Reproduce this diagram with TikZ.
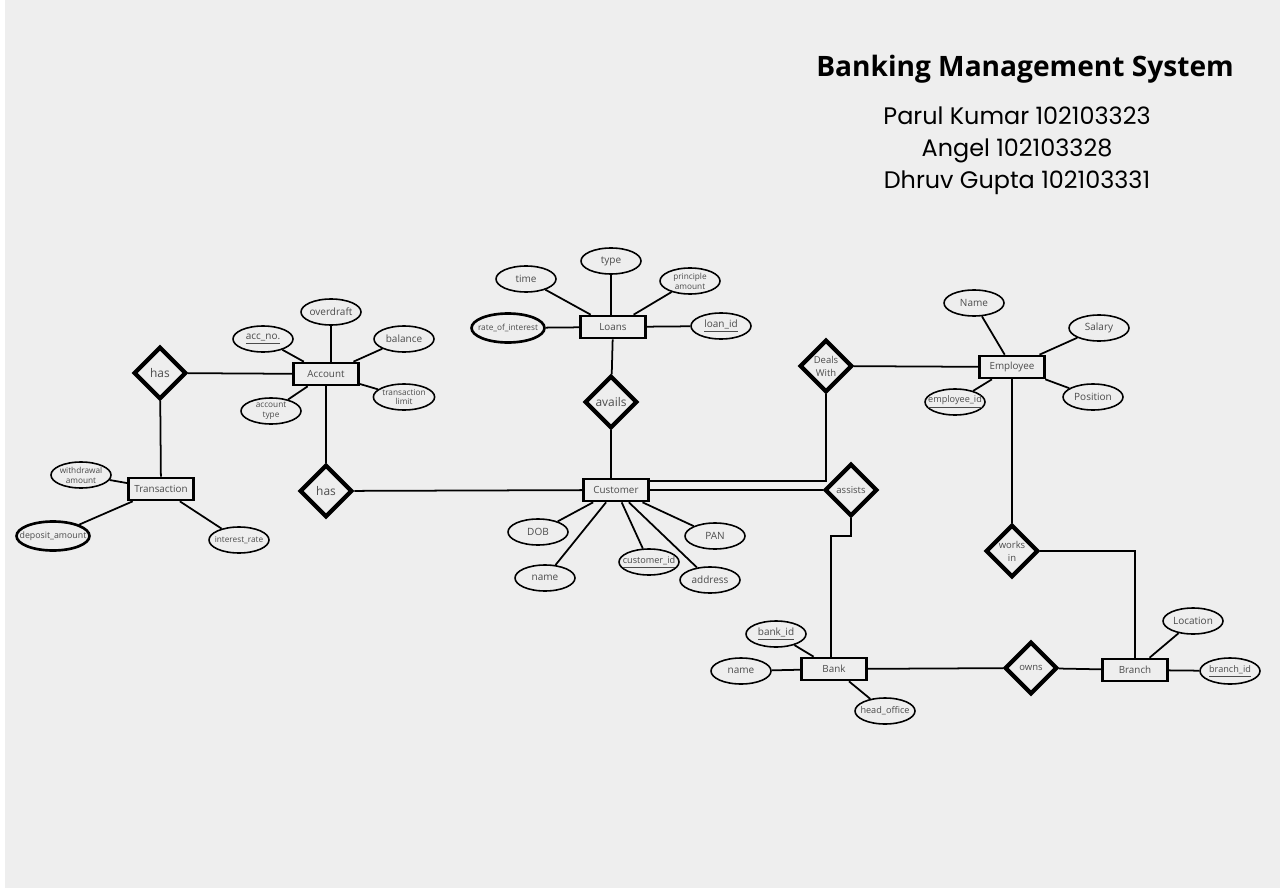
\documentclass[tikz,border=0pt]{standalone}
\usepackage{fontspec}
\setmainfont{Open Sans}
\newfontfamily\namesfont{Poppins}
\usetikzlibrary{shapes.geometric, positioning}
\definecolor{bmsPaper}{RGB}{238, 238, 238}
\definecolor{bmsInk}{RGB}{75, 75, 75}
% texto de atributo sin ancho propio: el ovalo lo fija minimum width
\newcommand{\attrtxt}[1]{\makebox[0pt]{#1}}

\begin{document}
\begin{tikzpicture}[
      x=0.02cm, y=-0.02cm,
      entity/.style = {draw, line width=1.5pt, fill=bmsPaper,
                       minimum width=1.3cm, minimum height=0.44cm,
                       inner sep=0pt, text=bmsInk,
                       font=\fontsize{5.6}{6.5}\selectfont},
      attr/.style   = {draw, ellipse, line width=0.9pt, fill=bmsPaper,
                       minimum width=1.2cm, minimum height=0.52cm,
                       inner sep=0pt, align=center, text=bmsInk,
                       font=\fontsize{5.7}{6.4}\selectfont},
      idattr/.style = {attr, font=\fontsize{5.2}{6.2}\selectfont},
      small/.style  = {font=\fontsize{4.7}{5.6}\selectfont},
      boldattr/.style = {attr, line width=1.5pt,
                       minimum width=1.46cm, minimum height=0.58cm},
      rel/.style    = {draw, diamond, line width=2.4pt, fill=bmsPaper,
                       minimum width=1.05cm, minimum height=1.05cm,
                       inner sep=0pt, align=center, text=bmsInk,
                       font=\fontsize{5.4}{7.4}\selectfont},
      bigrel/.style = {rel, font=\fontsize{6.8}{7.5}\selectfont},
      link/.style   = {line width=1pt},
    ]
    %% ── Fondo ──────────────────────────────────────────────────
    \fill[bmsPaper] (0,0) rectangle (1280,888);
    \fill[white] (0,0) rectangle (5,888);
    \useasboundingbox (0,0) rectangle (1280,888);

    %% ── Titulo ─────────────────────────────────────────────────
    \node (title) at (1025,69)
      {\fontsize{16}{19}\selectfont\bfseries Banking Management System};
    \node (authors) at (1017,151) [align=center,
        font=\namesfont\fontsize{13.6}{18.2}\selectfont]
      {Parul Kumar 102103323\\Angel 102103328\\Dhruv Gupta 102103331};

    %% ── Entidades ──────────────────────────────────────────────
    \node (acct)  at (326,374) [entity] {Account};
    \node (trans) at (161,489) [entity] {Transaction};
    \node (loans) at (613,327) [entity] {Loans};
    \node (cust)  at (616,490) [entity] {Customer};
    \node (emp)   at (1012,367) [entity] {Employee};
    \node (bank)  at (834,669) [entity] {Bank};
    \node (branch) at (1135,670) [entity] {Branch};

    %% ── Relaciones ─────────────────────────────────────────────
    \node (hasT)   at (160,373) [bigrel] {has};
    \node (hasC)   at (326,491) [bigrel] {has};
    \node (avails) at (611,402) [bigrel] {avails};
    \node (deals)  at (826,366) [rel] {Deals\\With};
    \node (assists) at (851,490) [rel] {assists};
    \node (works)  at (1012,551) [rel] {works\\in};
    \node (owns)   at (1031,668) [rel] {owns};

    %% ── Atributos ──────────────────────────────────────────────
    \node (ovd)    at (331,312) [attr] {\attrtxt{overdraft}};
    \node (accno)  at (263,339) [attr] {\attrtxt{\underline{acc\_no.}}};
    \node (bal)    at (404,339) [attr] {\attrtxt{balance}};
    \node (acctyp) at (271,411) [attr, small] {account\\type};
    \node (trlim)  at (404,397) [attr, small] {transaction\\limit};

    \node (wdraw)  at (81,475)  [attr, small] {withdrawal\\amount};
    \node (depo)   at (53,536)  [boldattr, font=\fontsize{5}{6}\selectfont]
                                 {\attrtxt{deposit\_amount}};
    \node (irate)  at (239,540) [attr, small] {\attrtxt{interest\_rate}};

    \node (ltime)  at (526,279) [attr] {\attrtxt{time}};
    \node (ltype)  at (611,261) [attr] {\attrtxt{type}};
    \node (lamt)   at (690,281) [attr, small] {principle\\amount};
    \node (roi)    at (508,328) [boldattr, small] {\attrtxt{rate\_of\_interest}};
    \node (loanid) at (721,326) [attr] {\attrtxt{\underline{loan\_id}}};

    \node (dob)    at (538,532) [attr] {\attrtxt{DOB}};
    \node (cname)  at (545,578) [attr] {\attrtxt{name}};
    \node (custid) at (649,562) [idattr] {\attrtxt{\underline{customer\_id}}};
    \node (pan)    at (715,536) [attr] {\attrtxt{PAN}};
    \node (addr)   at (710,580) [attr] {\attrtxt{address}};

    \node (ename)  at (974,303) [attr] {\attrtxt{Name}};
    \node (sal)    at (1099,328) [attr] {\attrtxt{Salary}};
    \node (pos)    at (1093,397) [attr] {\attrtxt{Position}};
    \node (empid)  at (955,402) [idattr] {\attrtxt{\underline{employee\_id}}};

    \node (bankid) at (776,634) [attr] {\attrtxt{\underline{bank\_id}}};
    \node (bname)  at (741,671) [attr] {\attrtxt{name}};
    \node (hoff)   at (885,711) [idattr] {\attrtxt{head\_office}};

    \node (loc)    at (1193,621) [attr] {\attrtxt{Location}};
    \node (brid)   at (1230,671) [idattr] {\attrtxt{\underline{branch\_id}}};

    %% ── Lineas de atributos ────────────────────────────────────
    \foreach \a in {accno, bal, acctyp, trlim}
      \draw[link] (\a) -- (acct);
    \draw[link] (ovd) -- (ovd |- acct.north);
    \foreach \a in {wdraw, depo, irate}
      \draw[link] (\a) -- (trans);
    \foreach \a in {ltime, lamt, roi, loanid}
      \draw[link] (\a) -- (loans);
    \draw[link] (ltype) -- (ltype |- loans.north);
    \foreach \a in {dob, cname, custid, pan, addr}
      \draw[link] (\a) -- (cust);
    \foreach \a in {ename, sal, pos, empid}
      \draw[link] (\a) -- (emp);
    \foreach \a in {bankid, bname, hoff}
      \draw[link] (\a) -- (bank);
    \foreach \a in {loc, brid}
      \draw[link] (\a) -- (branch);

    %% ── Relaciones entre entidades ─────────────────────────────
    \draw[link] (hasT) -- (acct);
    \draw[link] (hasT) -- (trans);
    \draw[link] (acct) -- (hasC);
    \draw[link] (hasC) -- (cust);
    \draw[link] (loans) -- (avails);
    \draw[link] (avails) -- (avails |- cust.north);
    \draw[link] (cust.east) -- (assists);
    \draw[link] (cust.north east) ++(0,3) -| (deals.south);
    \draw[link] (deals) -- (emp);
    \coordinate (bend) at (831,536);
    \draw[link] (assists.south) |- (bend) -- (bend |- bank.north);
    \draw[link] (bank) -- (owns);
    \draw[link] (owns) -- (branch);
    \draw[link] (emp.south) -- (works.north);
    \draw[link] (works.east) -| (branch.north);
  \end{tikzpicture}
\end{document}
